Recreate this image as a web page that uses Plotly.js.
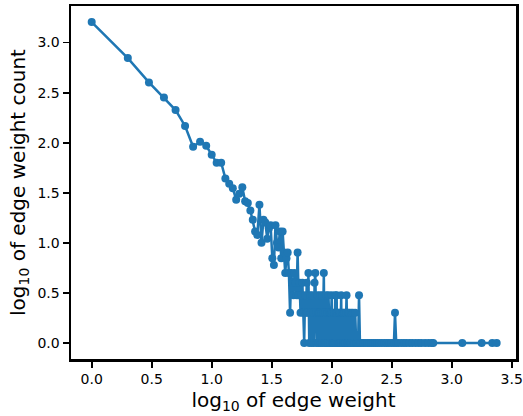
<!DOCTYPE html>
<html>
<head>
<meta charset="utf-8">
<script src="https://cdn.plot.ly/plotly-3.0.1.min.js"></script>
<style>html,body{margin:0;padding:0;background:#fff;}#chart{width:523px;height:416px;}</style>
</head>
<body>
<div id="chart"></div>
<script>
// edge weights (integer) and how many edges have that weight
const weights = [
  1,2,3,4,5,6,7,8,9,10,11,12,13,14,15,16,17,18,19,20,
  21,22,23,24,25,26,27,28,29,30,31,32,33,34,35,36,37,38,39,40,
  41,42,43,44,45,46,47,48,49,50,51,52,53,54,55,56,57,58,59,60,
  61,62,63,64,65,66,67,68,69,70,71,72,73,74,75,76,77,78,79,80,
  81,82,83,84,85,86,87,88,89,90,91,92,93,94,95,96,97,98,99,100,
  101,102,103,104,105,106,107,108,109,110,111,112,113,115,116,117,118,120,121,122,
  124,125,126,128,129,130,132,133,135,136,137,139,140,142,144,145,147,150,152,155,
  157,160,163,166,169,172,176,183,190,198,205,214,222,231,240,250,262,275,288,300,
  315,330,337,345,360,380,400,420,445,470,500,530,560,600,640,680,702,1225,1778,2178,2371
];
const counts = [
  1600,700,400,282,212,147,91,102,93,76,63,63,44,39,35,27,31,36,26,25,
  21,17,13,12,24,10,17,16,11,14,15,7,6,15,10,9,13,7,13,8,
  5,7,8,5,2,5,4,3,5,4,3,8,3,4,2,3,4,2,1,3,
  2,4,2,5,1,3,2,1,3,2,1,4,5,2,1,3,2,1,2,3,
  1,2,1,3,2,5,1,2,1,3,1,2,1,3,2,1,2,1,2,3,
  1,2,1,1,2,1,3,1,2,3,1,2,1,2,1,2,1,3,1,2,
  1,2,1,2,1,1,2,3,1,1,2,1,2,1,1,2,1,2,1,1,
  2,1,1,1,3,1,1,1,1,1,1,1,1,1,1,1,1,1,1,1,
  1,1,2,1,1,1,1,1,1,1,1,1,1,1,1,1,1,1,1,1,1
];
const xTickVals = [0,0.5,1,1.5,2,2.5,3,3.5];
const yTickVals = [0,0.5,1,1.5,2,2.5,3];
const xTickText = ["0.0","0.5","1.0","1.5","2.0","2.5","3.0","3.5"];
const yTickText = ["0.0","0.5","1.0","1.5","2.0","2.5","3.0"];

const logW = weights.map(v => Math.log10(v));
const logC = counts.map(v => Math.log10(v));

const font = "DejaVu Sans, sans-serif";
const trace = {
  x: logW, y: logC, type: "scatter", mode: "lines+markers",
  line: {color: "#1f77b4", width: 2.5},
  marker: {color: "#1f77b4", size: 8},
  hoverinfo: "skip"
};
const axisCommon = {
  showline: true, linecolor: "#000", linewidth: 2.5, mirror: true,
  showgrid: false, zeroline: false,
  ticks: "outside", ticklen: 6, tickwidth: 1.8, tickcolor: "#000",
  tickfont: {family: font, size: 14, color: "#000"},
  ticklabeloverflow: "allow",
  automargin: false
};
const layout = {
  width: 523, height: 416,
  margin: {l: 71, r: 7, t: 6, b: 57},
  paper_bgcolor: "#fff", plot_bgcolor: "#fff",
  showlegend: false,
  xaxis: Object.assign({}, axisCommon, {
    range: [-0.1725, 3.536], tickvals: xTickVals, ticktext: xTickText,
    title: {text: "log<sub>10</sub> of edge weight", font: {family: font, size: 20, color: "#000"}, standoff: 7}
  }),
  yaxis: Object.assign({}, axisCommon, {
    range: [-0.16, 3.365], tickvals: yTickVals, ticktext: yTickText,
    title: {text: "log<sub>10</sub> of edge weight count", font: {family: font, size: 20, color: "#000"}, standoff: 7}
  })
};
Plotly.newPlot("chart", [trace], layout, {displayModeBar: false, staticPlot: true});
</script>
</body>
</html>
